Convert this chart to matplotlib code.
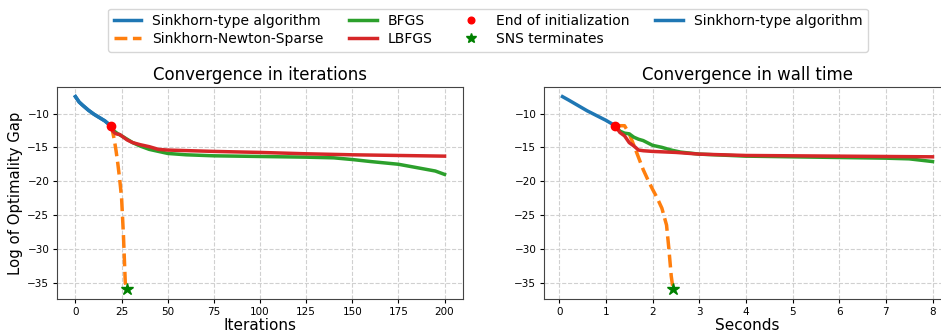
import matplotlib
matplotlib.use("Agg")
import matplotlib.pyplot as plt

# ---- data: iterations panel ----
sk_it = [0, 1, 2, 4, 7, 10, 13, 16, 19]
sk_it_y = [-7.5, -7.9, -8.3, -8.8, -9.5, -10.1, -10.6, -11.1, -11.8]

sns_it = [19, 20, 21, 22, 23, 24, 25, 26, 27, 28]
sns_it_y = [-11.8, -12.5, -13.8, -15.5, -17.5, -19.8, -22.5, -28.0, -35.0, -36.0]

bfgs_it = [19, 21, 23, 25, 28, 31, 35, 40, 45, 50, 60, 75, 100, 125, 140, 150, 160, 175, 185, 195, 200]
bfgs_it_y = [-11.8, -12.6, -13.0, -13.3, -13.8, -14.3, -14.8, -15.3, -15.6, -15.9, -16.1, -16.25,
             -16.35, -16.45, -16.55, -16.8, -17.1, -17.5, -18.0, -18.5, -19.0]

lbfgs_it = [19, 20, 21, 22, 24, 26, 28, 31, 35, 40, 45, 50, 75, 100, 125, 150, 175, 200]
lbfgs_it_y = [-11.8, -12.5, -12.8, -13.0, -13.1, -13.5, -13.9, -14.3, -14.6, -14.9, -15.3, -15.4,
              -15.6, -15.75, -15.95, -16.1, -16.2, -16.3]

init_it = [19]
init_it_y = [-11.8]
end_it = [28]
end_it_y = [-36.0]

# ---- data: wall-time panel ----
sk_t = [0.07, 0.2, 0.4, 0.6, 0.8, 1.0, 1.2]
sk_t_y = [-7.5, -8.0, -8.8, -9.6, -10.3, -11.0, -11.8]

sns_t = [1.2, 1.4, 1.5, 1.6, 1.7, 1.8, 1.9, 2.0, 2.1, 2.2, 2.3, 2.35, 2.4, 2.44]
sns_t_y = [-11.8, -11.8, -13.0, -14.7, -16.5, -18.3, -19.8, -21.2, -22.5, -24.0, -26.5, -30.0, -34.0, -36.0]

bfgs_t = [1.2, 1.3, 1.4, 1.5, 1.6, 1.7, 1.8, 2.0, 2.2, 2.4, 2.6, 3.0, 4.0, 5.0, 6.0, 7.0, 7.5, 8.0]
bfgs_t_y = [-11.8, -12.6, -12.9, -13.0, -13.5, -13.8, -14.0, -14.7, -15.0, -15.4, -15.7, -16.0,
            -16.3, -16.4, -16.5, -16.6, -16.7, -17.1]

lbfgs_t = [1.2, 1.3, 1.4, 1.5, 1.6, 1.7, 1.8, 2.0, 2.5, 3.0, 4.0, 5.0, 6.0, 7.0, 8.0]
lbfgs_t_y = [-11.8, -12.8, -13.3, -14.3, -14.8, -15.4, -15.5, -15.6, -15.75, -16.0, -16.2,
             -16.25, -16.3, -16.35, -16.4]

init_t = [1.2]
init_t_y = [-11.8]
end_t = [2.44]
end_t_y = [-36.0]

W, H = 941, 333
fig = plt.figure(figsize=(W / 100, H / 100), dpi=100)
ax1 = fig.add_axes([57 / W, 34 / H, 406 / W, 212 / H])
ax2 = fig.add_axes([544 / W, 34 / H, 407 / W, 212 / H])

lw = 2.5
for ax, d in [
    (ax1, (sk_it, sk_it_y, sns_it, sns_it_y, bfgs_it, bfgs_it_y, lbfgs_it, lbfgs_it_y,
           init_it, init_it_y, end_it, end_it_y)),
    (ax2, (sk_t, sk_t_y, sns_t, sns_t_y, bfgs_t, bfgs_t_y, lbfgs_t, lbfgs_t_y,
           init_t, init_t_y, end_t, end_t_y)),
]:
    (skx, sky, snx, sny, bx, by, lx, ly, ix, iy, ex, ey) = d
    ax.plot(skx, sky, color='#1f77b4', lw=lw, label='Sinkhorn-type algorithm')
    ax.plot(snx, sny, color='#ff7f0e', lw=lw, ls='--', label='Sinkhorn-Newton-Sparse')
    ax.plot(bx, by, color='#2ca02c', lw=lw, label='BFGS')
    ax.plot(lx, ly, color='#d62728', lw=lw, label='LBFGS')
    ax.plot(ix, iy, 'o', color='red', ms=6, label='End of initialization', zorder=5)
    ax.plot(ex, ey, '*', color='green', ms=9, label='SNS terminates', zorder=5)
    ax.grid(True, ls='--', color='#d0d0d0', lw=0.8)
    ax.tick_params(labelsize=7.5, length=3, pad=2.5)
    for s in ax.spines.values():
        s.set_color('#444444')

ax1.plot(sk_it, sk_it_y, color='#1f77b4', lw=lw, label='Sinkhorn-type algorithm')

ax1.set_title('Convergence in iterations', fontsize=12, pad=5)
ax2.set_title('Convergence in wall time', fontsize=12, pad=5)
ax1.set_xlabel('Iterations', fontsize=11, labelpad=1)
ax2.set_xlabel('Seconds', fontsize=11, labelpad=1)
ax1.set_ylabel('Log of Optimality Gap', fontsize=10.7, labelpad=3)
ax1.set_xticks([0, 25, 50, 75, 100, 125, 150, 175, 200])
ax2.set_xticks(list(range(0, 9)))
for ax in (ax1, ax2):
    ax.set_yticks([-10, -15, -20, -25, -30, -35])

h, l = ax1.get_legend_handles_labels()
leg = fig.legend(h, l, loc='upper center', bbox_to_anchor=(488 / W, 0.995), ncol=4, fontsize=10,
                 handlelength=2.0, columnspacing=1.8, labelspacing=0.3, borderpad=0.4,
                 markerscale=0.8)

fig.savefig('out.png', dpi=100)
